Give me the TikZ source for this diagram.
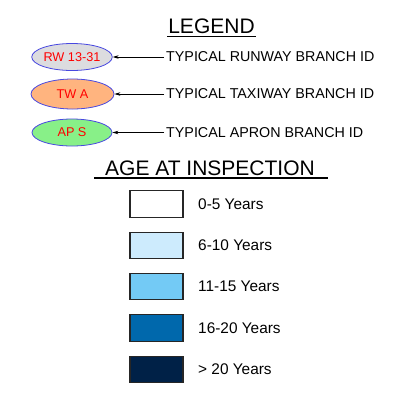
\documentclass[tikz,border=0pt]{standalone}
\usepackage{fontspec}
\setmainfont{Liberation Sans}
\usetikzlibrary{arrows.meta,shapes.geometric}
\definecolor{rwgray}{HTML}{DCDCDF}
\definecolor{twor}{HTML}{FFB47F}
\definecolor{apgr}{HTML}{88F088}
\definecolor{elblue}{HTML}{4848E0}
\definecolor{agea}{HTML}{FFFFFF}
\definecolor{ageb}{HTML}{CDEBFD}
\definecolor{agec}{HTML}{73CAF5}
\definecolor{aged}{HTML}{0068AC}
\definecolor{agee}{HTML}{002147}
\begin{document}
\begin{tikzpicture}[x=1pt,y=-1pt,
  branch/.style={ellipse,draw=elblue,line width=0.8pt,minimum width=80pt,minimum height=27pt,inner sep=0pt,text=red,font=\fontsize{12.7}{14}\selectfont},
  typtext/.style={anchor=west,inner sep=2pt,font=\fontsize{14.3}{16}\selectfont},
  pointer/.style={draw=black,line width=0.7pt,-{Stealth[length=6pt,width=3.5pt]}},
  agebox/.style={draw=black!85,line width=1.1pt,minimum width=53pt,minimum height=26.5pt,inner sep=0pt},
  agetext/.style={anchor=west,inner sep=2pt,font=\fontsize{15.4}{17}\selectfont},
  title/.style={anchor=base,inner sep=0pt,font=\fontsize{21}{24}\selectfont}]
\useasboundingbox (0,0) rectangle (410,392);
% titles
\node[title] (legend) at (211.5,33.5) {LEGEND};
\coordinate (lgl) at (167,36);
\coordinate (lgr) at (256,36);
\draw[line width=1pt] (lgl) -- (lgr);
\node[title] (age) at (210,175.5) {AGE AT INSPECTION};
\coordinate (agl) at (94,178);
\coordinate (agr) at (328,178);
\draw[line width=1.2pt] (agl) -- (agr);
% branch ellipses
\node[branch,fill=rwgray] (rw) at (72,57) {RW 13-31};
\node[branch,fill=twor,minimum width=83pt,minimum height=30pt] (tw) at (72.5,94) {TW A};
\node[branch,fill=apgr] (ap) at (72,132.5) {AP S};
\node[typtext] (t1) at (164,57) {TYPICAL RUNWAY BRANCH ID};
\node[typtext] (t2) at (164,94) {TYPICAL TAXIWAY BRANCH ID};
\node[typtext] (t3) at (164,132.5) {TYPICAL APRON BRANCH ID};
\draw[pointer] (t1.west) -- (rw.east);
\draw[pointer] (t2.west) -- (tw.east);
\draw[pointer] (t3.west) -- (ap.east);
% age boxes
\node[agebox,fill=agea] (b1) at (156.5,204) {};
\node[agebox,fill=ageb] (b2) at (156.5,245.5) {};
\node[agebox,fill=agec] (b3) at (156.5,286.5) {};
\node[agebox,fill=aged] (b4) at (156.5,328) {};
\node[agebox,fill=agee] (b5) at (156.5,369.5) {};
\node[agetext] (l1) at (196,204) {0-5 Years};
\node[agetext] (l2) at (196,245.5) {6-10 Years};
\node[agetext] (l3) at (196,286.5) {11-15 Years};
\node[agetext] (l4) at (196,328) {16-20 Years};
\node[agetext] (l5) at (196,369.5) {> 20 Years};
\end{tikzpicture}
\end{document}
